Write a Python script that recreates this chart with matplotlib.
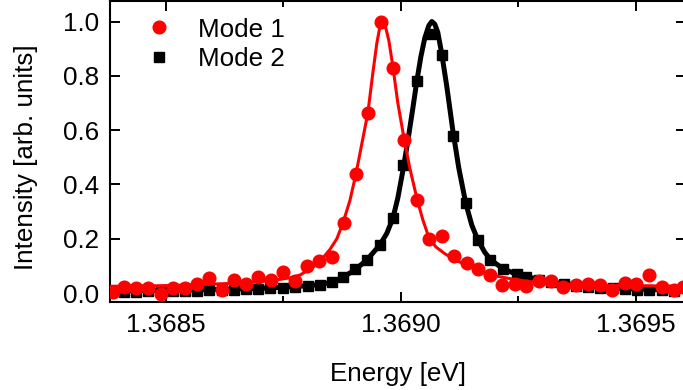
import matplotlib
matplotlib.use('Agg')
import matplotlib.pyplot as plt
from matplotlib.ticker import MultipleLocator, FormatStrFormatter

plt.rcParams['font.family'] = ['Liberation Sans', 'DejaVu Sans']
plt.rcParams['font.size'] = 18.7

# ── measured points ─────────────────────────────────────
mode1_E = [1.3683866, 1.3684113, 1.3684362, 1.3684623, 1.3684887, 1.3685155,
           1.3685404, 1.3685666, 1.3685921, 1.3686198, 1.3686447, 1.3686702,
           1.3686964, 1.3687228, 1.3687483, 1.3687745, 1.3688006, 1.3688262,
           1.3688538, 1.3688794, 1.3689043, 1.3689309, 1.3689574, 1.3689823,
           1.3690074, 1.3690351, 1.3690602, 1.3690866, 1.3691138, 1.3691398,
           1.3691645, 1.3691894, 1.3692155, 1.3692426, 1.3692674, 1.3692943,
           1.3693206, 1.3693453, 1.3693738, 1.3693985, 1.3694234, 1.3694504,
           1.3694766, 1.3695015, 1.3695283, 1.3695568, 1.3695809, 1.3696011]
mode1_I = [0.005, 0.023, 0.017, 0.018, -0.005, 0.017, 0.017, 0.034, 0.057, 0.011,
           0.048, 0.035, 0.060, 0.049, 0.078, 0.046, 0.100, 0.117, 0.132, 0.259,
           0.437, 0.663, 1.000, 0.828, 0.564, 0.342, 0.200, 0.211, 0.136, 0.111,
           0.087, 0.068, 0.031, 0.034, 0.026, 0.046, 0.046, 0.021, 0.031, 0.033,
           0.028, 0.012, 0.036, 0.035, 0.065, 0.023, 0.010, 0.023]

mode2_E = [1.3683851, 1.3684106, 1.3684372, 1.3684628, 1.3684894, 1.3685149,
           1.3685404, 1.3685670, 1.3685926, 1.3686191, 1.3686447, 1.3686702,
           1.3686968, 1.3687223, 1.3687489, 1.3687745, 1.3688028, 1.3688277,
           1.3688526, 1.3688772, 1.3689021, 1.3689270, 1.3689553, 1.3689836,
           1.3690049, 1.3690334, 1.3690632, 1.3690866, 1.3691113, 1.3691383,
           1.3691645, 1.3691894, 1.3692177, 1.3692462, 1.3692674, 1.3692936,
           1.3693202, 1.3693468, 1.3693723, 1.3693979, 1.3694234, 1.3694511,
           1.3694766, 1.3695021, 1.3695287, 1.3695553, 1.3695809]
mode2_I = [0.003, 0.004, 0.005, 0.006, 0.006, 0.007, 0.008, 0.009, 0.010, 0.011,
           0.012, 0.014, 0.015, 0.017, 0.019, 0.022, 0.026, 0.031, 0.042, 0.060,
           0.087, 0.122, 0.177, 0.275, 0.471, 0.780, 0.955, 0.877, 0.578, 0.330,
           0.196, 0.122, 0.088, 0.070, 0.058, 0.048, 0.040, 0.034, 0.026, 0.023,
           0.020, 0.017, 0.015, 0.013, 0.011, 0.010, 0.009]

# ── fit curves ──────────────────────────────────────────
fit1_E = [1.3683809, 1.3684872, 1.3685723, 1.3686574, 1.3687213, 1.3687638,
          1.3687851, 1.3688128, 1.3688319, 1.3688489, 1.3688638, 1.3688766,
          1.3688915, 1.3689043, 1.3689170, 1.3689298, 1.3689404, 1.3689489,
          1.3689553, 1.3689596, 1.3689660, 1.3689745, 1.3689830, 1.3689936,
          1.3690074, 1.3690191, 1.3690351, 1.3690468, 1.3690596, 1.3690745,
          1.3690936, 1.3691149, 1.3691404, 1.3691681, 1.3691894, 1.3692106,
          1.3692426, 1.3692745, 1.3693383, 1.3694234, 1.3695085, 1.3696000]
fit1_I = [0.025, 0.027, 0.031, 0.037, 0.045, 0.056, 0.066, 0.095, 0.125, 0.16,
          0.20, 0.257, 0.34, 0.437, 0.55, 0.663, 0.81, 0.92, 0.98, 1.00,
          0.99, 0.93, 0.835, 0.70, 0.564, 0.46, 0.342, 0.27, 0.205, 0.17,
          0.145, 0.122, 0.103, 0.08, 0.068, 0.060, 0.05, 0.042, 0.034, 0.029,
          0.027, 0.025]

fit2_E = [1.3683809, 1.3685723, 1.3687000, 1.3687851, 1.3688277, 1.3688532,
          1.3688766, 1.3689021, 1.3689277, 1.3689553, 1.3689702, 1.3689830,
          1.3689936, 1.3690043, 1.3690149, 1.3690255, 1.3690340, 1.3690426,
          1.3690511, 1.3690596, 1.3690660, 1.3690723, 1.3690787, 1.3690872,
          1.3690979, 1.3691106, 1.3691234, 1.3691383, 1.3691511, 1.3691638,
          1.3691787, 1.3691915, 1.3692170, 1.3692426, 1.3692745, 1.3693064,
          1.3693383, 1.3693809, 1.3694234, 1.3694872, 1.3695511, 1.3696000]
fit2_I = [0.008, 0.012, 0.017, 0.025, 0.031, 0.040, 0.058, 0.085, 0.122, 0.177,
          0.22, 0.275, 0.35, 0.45, 0.56, 0.68, 0.78, 0.87, 0.94, 0.985,
          1.00, 0.99, 0.96, 0.88, 0.76, 0.60, 0.46, 0.33, 0.25, 0.196,
          0.15, 0.122, 0.09, 0.072, 0.058, 0.045, 0.036, 0.028, 0.022, 0.016,
          0.012, 0.010]

fig = plt.figure(figsize=(6.83, 3.90), dpi=100)
ax = fig.add_axes([0.161, 0.2256, 0.843, 0.7718])

# Mode 2 under Mode 1
ax.plot(fit2_E, fit2_I, color='black', lw=3.6, zorder=2)
ax.plot(mode2_E, mode2_I, 's', color='black', ms=7.2, ls='none', zorder=3, label='Mode 2')
ax.plot(fit1_E, fit1_I, color='red', lw=2.2, zorder=4)
ax.plot(mode1_E, mode1_I, 'o', color='red', ms=9.1, ls='none', zorder=5, label='Mode 1')

ax.set_xlim(1.3683809, 1.3696064)
ax.set_ylim(-0.033, 1.0755)

ax.xaxis.set_major_locator(MultipleLocator(0.0005))
ax.xaxis.set_minor_locator(MultipleLocator(0.00025))
ax.xaxis.set_major_formatter(FormatStrFormatter('%.4f'))
ax.yaxis.set_major_locator(MultipleLocator(0.2))
ax.yaxis.set_major_formatter(FormatStrFormatter('%.1f'))

ax.tick_params(which='both', direction='in', top=True, right=True, width=1.4)
ax.tick_params(which='major', length=7, pad=8)
ax.tick_params(which='minor', length=4.5)
for s in ax.spines.values():
    s.set_linewidth(1.5)

ax.set_xlabel('Energy [eV]', labelpad=18)
ax.set_ylabel('Intensity [arb. units]')
ax.yaxis.set_label_coords(-0.125, 0.48)

h, l = ax.get_legend_handles_labels()
ax.legend(h[::-1], l[::-1], loc='upper left', bbox_to_anchor=(0.0625, 0.945),
          frameon=False, borderpad=0, borderaxespad=0,
          handletextpad=1.0, labelspacing=0.22, handlelength=1.0)

plt.savefig('out.png', dpi=100)
